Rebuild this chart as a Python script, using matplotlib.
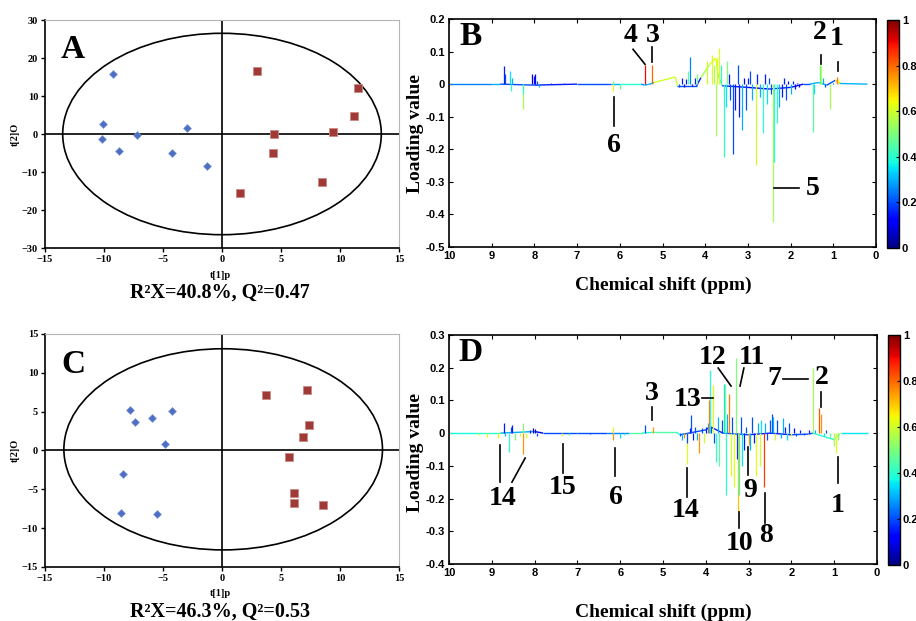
import numpy as np
import matplotlib
matplotlib.use("Agg")
import matplotlib.pyplot as plt
from matplotlib.patches import Ellipse
from matplotlib.collections import LineCollection
from matplotlib.cm import ScalarMappable
from matplotlib.colors import Normalize

# ---- score plots (A, C) ----
a_ctrl_x = [-9.2, -10.1, -10.2, -8.7, -7.2, -4.2, -3.0, -1.3]
a_ctrl_y = [15.8, 2.7, -1.3, -4.6, -0.2, -5.1, 1.5, -8.5]
a_case_x = [3.0, 11.5, 11.2, 9.4, 4.4, 4.3, 8.5, 1.5]
a_case_y = [16.5, 12.0, 4.8, 0.6, 0.1, -5.0, -12.5, -15.5]

c_ctrl_x = [-7.8, -7.4, -5.9, -4.2, -4.8, -8.4, -8.6, -5.5]
c_ctrl_y = [5.2, 3.7, 4.2, 5.1, 0.9, -3.0, -8.0, -8.2]
c_case_x = [3.7, 7.2, 7.4, 6.9, 5.7, 6.1, 6.1, 8.6]
c_case_y = [7.2, 7.8, 3.3, 1.8, -0.8, -5.5, -6.8, -7.0]

a_stats = "R²X=40.8%, Q²=0.47"
c_stats = "R²X=46.3%, Q²=0.53"

# ---- loading plots (B, D): peaks (ppm, loading, |r|) ----
b_ppm = [8.71, 8.69, 8.57, 8.55, 8.52, 8.27, 8.26, 8.06, 8.02, 7.99, 7.95, 7.9, 7.6, 7.3,
         6.16, 6.15, 6.0, 5.41, 5.25,
         4.62, 4.55, 4.5, 4.45, 4.4, 4.36, 4.3, 4.25, 4.2,
         3.95, 3.85, 3.8, 3.68, 3.72,
         3.75, 3.62, 3.56, 3.52, 3.48, 3.45, 3.42, 3.35, 3.3, 3.23, 3.21, 3.14, 3.1, 3.05,
         3.0, 2.95, 2.9, 2.81, 2.78, 2.72, 2.65, 2.6, 2.55, 2.5, 2.45, 2.41, 2.38, 2.33,
         2.28, 2.2, 2.15, 2.1, 2.05, 2.0, 1.95, 1.9, 1.85, 1.8,
         1.48, 1.45, 1.31, 1.29, 1.25, 1.2, 1.08, 1.0, 0.92, 0.9]
b_load = [0.055, 0.03, 0.04, -0.02, 0.02, -0.075, -0.03, 0.03, 0.025, 0.03, 0.01, -0.01, 0.005, 0.005,
          -0.022, 0.01, -0.015, 0.058, 0.06,
          -0.01, 0.02, -0.008, 0.015, 0.04, 0.083, -0.005, 0.02, 0.03,
          0.07, 0.09, 0.06, 0.11, 0.08,
          -0.16, 0.06, -0.224, -0.07, 0.07, 0.03, -0.05, -0.213, -0.08, 0.06, -0.1, -0.142, 0.02, -0.08,
          0.02, 0.04, -0.05, -0.249, 0.03, -0.04, -0.15, 0.03, -0.06, 0.02, -0.03, -0.424, -0.24, -0.12,
          -0.07, -0.04, 0.02, -0.05, 0.01, -0.03, 0.01, -0.015, 0.005, -0.01,
          -0.146, -0.03, 0.058, 0.06, 0.02, -0.01, -0.075, 0.005, 0.022, 0.015]
b_corr = [0.15, 0.2, 0.35, 0.4, 0.3, 0.55, 0.4, 0.1, 0.15, 0.1, 0.2, 0.3, 0.2, 0.2,
          0.62, 0.5, 0.45, 0.9, 0.8,
          0.2, 0.15, 0.1, 0.15, 0.45, 0.25, 0.1, 0.15, 0.5,
          0.6, 0.62, 0.55, 0.62, 0.6,
          0.55, 0.4, 0.4, 0.35, 0.5, 0.15, 0.2, 0.2, 0.15, 0.2, 0.15, 0.3, 0.1, 0.2,
          0.15, 0.2, 0.3, 0.6, 0.15, 0.3, 0.4, 0.15, 0.35, 0.2, 0.2, 0.55, 0.4, 0.4,
          0.3, 0.15, 0.15, 0.2, 0.1, 0.3, 0.15, 0.1, 0.1, 0.1,
          0.45, 0.35, 0.4, 0.62, 0.3, 0.2, 0.55, 0.2, 0.78, 0.65]

b_base_ppm = [10.0, 9.0, 8.8, 8.0, 7.0, 6.2, 6.0, 5.5, 5.42, 5.3, 5.2, 4.7, 4.65, 4.2, 4.1,
              3.9, 3.75, 3.7, 3.6, 3.0, 2.5, 2.0, 1.7, 1.55, 1.35, 1.15, 0.95, 0.85, 0.2]
b_base_val = [0, 0, 0, -0.003, 0, 0, 0, 0, -0.003, 0, 0.005, 0.022, -0.005, -0.005, 0.02,
              0.06, 0.08, 0.03, -0.005, -0.01, -0.015, -0.01, 0, 0, 0.005, -0.003, 0.012, 0.002, 0]
b_base_corr = [0.25, 0.3, 0.2, 0.15, 0.2, 0.3, 0.4, 0.25, 0.3, 0.3, 0.6, 0.6, 0.2, 0.15, 0.55,
               0.62, 0.62, 0.5, 0.15, 0.12, 0.15, 0.12, 0.2, 0.3, 0.3, 0.2, 0.7, 0.3, 0.3]

d_ppm = [9.3, 9.11, 8.85, 8.72, 8.68, 8.6, 8.55, 8.52, 8.45, 8.35, 8.28, 8.27, 8.2, 8.1, 8.04, 8.0, 7.95,
         7.35, 7.2, 6.7, 6.17, 6.16, 6.0, 5.9, 5.42, 5.23,
         4.6, 4.55, 4.5, 4.45, 4.43, 4.38, 4.35, 4.3, 4.25, 4.2, 4.15, 4.1, 4.05, 4.0, 3.95,
         3.92, 3.9, 3.87, 3.83, 3.8, 3.77, 3.72, 3.68, 3.62, 3.58, 3.55, 3.53, 3.5, 3.45, 3.42,
         3.38, 3.35, 3.3, 3.28, 3.25, 3.22, 3.18, 3.15, 3.1, 3.05, 3.0, 2.96, 2.92, 2.88, 2.82,
         2.78, 2.74, 2.7, 2.65, 2.62, 2.56, 2.5, 2.45, 2.42, 2.38, 2.33, 2.25, 2.2, 2.15, 2.1,
         2.05, 2.0, 1.95, 1.9, 1.8, 1.7, 1.6, 1.5, 1.45, 1.35, 1.3, 1.25, 1.2, 1.1, 1.0, 0.95, 0.9]
d_load = [-0.005, -0.012, -0.015, 0.03, -0.01, -0.058, 0.02, 0.025, -0.02, -0.01, 0.03, -0.065, -0.015, 0.01, 0.015, 0.012, -0.008,
          -0.008, -0.005, -0.003, -0.02, 0.02, -0.015, -0.005, 0.025, 0.02,
          -0.01, -0.02, -0.015, -0.093, -0.03, 0.015, 0.055, -0.02, 0.02, -0.02, -0.062, 0.015, -0.03, 0.02, 0.03,
          0.1, 0.193, 0.02, 0.147, -0.03, -0.087, 0.05, -0.1, 0.04, 0.15, 0.15, -0.19, 0.06, 0.12, -0.13,
          0.05, -0.165, 0.23, -0.08, -0.24, -0.19, 0.05, -0.1, -0.05, 0.02, -0.035, -0.05, 0.05, -0.03, -0.13,
          0.03, -0.1, 0.04, -0.165, 0.03, -0.02, 0.04, 0.06, 0.05, -0.02, 0.04, -0.015, 0.045, 0.02, -0.02,
          0.03, -0.01, 0.015, -0.01, 0.01, -0.005, 0.01, 0.2, 0.01, 0.076, 0.06, -0.01, 0.01, -0.015, -0.04, -0.062, -0.02]
d_corr = [0.6, 0.65, 0.65, 0.15, 0.3, 0.4, 0.2, 0.15, 0.5, 0.6, 0.5, 0.75, 0.62, 0.15, 0.05, 0.1, 0.2,
          0.62, 0.4, 0.2, 0.75, 0.62, 0.35, 0.4, 0.2, 0.75,
          0.2, 0.3, 0.75, 0.62, 0.2, 0.15, 0.2, 0.15, 0.2, 0.3, 0.75, 0.2, 0.6, 0.15, 0.3,
          0.78, 0.4, 0.2, 0.62, 0.2, 0.4, 0.3, 0.45, 0.2, 0.35, 0.5, 0.4, 0.3, 0.78, 0.62,
          0.2, 0.62, 0.5, 0.15, 0.7, 0.4, 0.2, 0.35, 0.15, 0.2, 0.75, 0.3, 0.2, 0.15, 0.62,
          0.3, 0.6, 0.35, 0.85, 0.3, 0.2, 0.2, 0.2, 0.3, 0.6, 0.2, 0.3, 0.3, 0.15, 0.35,
          0.2, 0.6, 0.1, 0.2, 0.15, 0.2, 0.15, 0.55, 0.3, 0.82, 0.75, 0.35, 0.2, 0.45, 0.55, 0.62, 0.5]

d_base_ppm = [10.0, 9.2, 8.8, 8.0, 7.8, 7.0, 6.3, 5.8, 5.5, 5.2, 4.7, 4.6, 4.0, 3.9, 3.6,
              3.0, 2.5, 2.0, 1.6, 1.5, 1.0, 0.85, 0.2]
d_base_val = [0, 0, 0, 0.005, 0, 0, 0, 0, 0, 0.003, 0.003, -0.005, 0.01, 0.02, 0,
              -0.005, 0, -0.005, -0.003, 0, -0.02, 0, 0]
d_base_corr = [0.38, 0.4, 0.3, 0.1, 0.2, 0.2, 0.25, 0.45, 0.4, 0.45, 0.4, 0.2, 0.15, 0.15, 0.2,
               0.15, 0.15, 0.2, 0.2, 0.4, 0.55, 0.35, 0.35]

# labels: (text, text ppm, text y, line x0, y0, x1, y1)
b_notes = [("4", 5.74, 0.150, 5.69, 0.107, 5.41, 0.061),
           ("3", 5.22, 0.150, 5.25, 0.113, 5.25, 0.068),
           ("2", 1.31, 0.160, 1.29, 0.089, 1.29, 0.061),
           ("1", 0.91, 0.141, 0.89, 0.068, 0.89, 0.040),
           ("6", 6.14, -0.187, 6.14, -0.040, 6.14, -0.129),
           ("5", 1.48, -0.319, 2.39, -0.319, 1.80, -0.319)]
d_notes = [("14", 8.74, -0.199, 8.81, -0.037, 8.81, -0.150),
           ("", 0, 0, 8.53, -0.150, 8.22, -0.076),
           ("15", 7.34, -0.165, 7.34, -0.034, 7.34, -0.122),
           ("6", 6.10, -0.196, 6.12, -0.046, 6.12, -0.131),
           ("3", 5.26, 0.122, 5.26, 0.080, 5.26, 0.040),
           ("13", 4.42, 0.104, 4.09, 0.107, 3.83, 0.107),
           ("14", 4.46, -0.235, 4.44, -0.107, 4.44, -0.196),
           ("12", 3.83, 0.232, 3.71, 0.199, 3.41, 0.144),
           ("11", 2.92, 0.232, 3.11, 0.199, 3.20, 0.144),
           ("7", 2.41, 0.168, 2.20, 0.165, 1.61, 0.165),
           ("2", 1.29, 0.171, 1.31, 0.125, 1.31, 0.080),
           ("9", 2.97, -0.174, 3.01, -0.043, 3.01, -0.128),
           ("10", 3.20, -0.336, 3.22, -0.242, 3.22, -0.291),
           ("8", 2.59, -0.312, 2.62, -0.183, 2.62, -0.275),
           ("1", 0.91, -0.220, 0.91, -0.073, 0.91, -0.153)]

serif = "Liberation Serif"
sans = "Liberation Sans"
cmap = plt.get_cmap("jet")

W, H = 916, 621
fig = plt.figure(figsize=(W / 100, H / 100), dpi=100)


def box(x0, y0, x1, y1):
    # pixel box (top-left origin) -> figure fraction rect
    return [x0 / W, 1 - y1 / H, (x1 - x0) / W, (y1 - y0) / H]


def score_plot(rect, cx, cy, rx, ry, ylim, yticks, ell, letter, stats, stats_y, xlab_y):
    ax = fig.add_axes(box(*rect))
    ax.add_patch(Ellipse(ell[:2], ell[2], ell[3], fill=False, ec="black", lw=1.2))
    ax.axhline(0, color="black", lw=1.2)
    ax.axvline(0, color="black", lw=1.2)
    ax.scatter(cx, cy, marker="D", s=16, c="#4c6fc4", edgecolors="#7f97d6", linewidths=0.5, zorder=3)
    ax.scatter(rx, ry, marker="s", s=36, c="#a03a36", edgecolors="#c88a86", linewidths=0.6, zorder=3)
    ax.set_xlim(-15, 15)
    ax.set_ylim(*ylim)
    ax.set_xticks(range(-15, 16, 5))
    ax.set_yticks(yticks)
    for s in ["top", "right"]:
        ax.spines[s].set_color("#b5b5b5")
    for s in ["left", "bottom"]:
        ax.spines[s].set_linewidth(1.2)
    ax.tick_params(length=3, width=1, labelsize=7.5, pad=2)
    for t in ax.get_xticklabels() + ax.get_yticklabels():
        t.set_fontfamily(serif)
        t.set_fontweight("bold")
    ax.text(0.045, 0.87, letter, transform=ax.transAxes, fontsize=24, fontweight="bold",
            family=serif, va="center", ha="left")
    fig.text(220 / W, 1 - xlab_y / H, "t[1]p", fontsize=7.5, family=serif, fontweight="bold",
             ha="center", va="center")
    fig.text(15 / W, 1 - (rect[1] + rect[3]) / 2 / H, "t[2]O", fontsize=7.5, family=serif,
             fontweight="bold", rotation=90, ha="center", va="center")
    fig.text(220 / W, 1 - stats_y / H, stats, fontsize=14.5, family=serif, fontweight="bold",
             ha="center", va="center")
    return ax


def loading_plot(rect, crect, ppm, load, corr, bppm, bval, bcorr, ylim, letter, notes, ylab_y, xlab_y):
    ax = fig.add_axes(box(*rect))
    norm = Normalize(0, 1)
    # baseline trace
    segs = [[(bppm[i], bval[i]), (bppm[i + 1], bval[i + 1])] for i in range(len(bppm) - 1)]
    ax.add_collection(LineCollection(segs, colors=cmap(norm(np.array(bcorr[:-1]))), linewidths=1.0))
    # peaks
    segs = [[(p, 0), (p, h)] for p, h in zip(ppm, load)]
    ax.add_collection(LineCollection(segs, colors=cmap(norm(np.array(corr))), linewidths=0.9))
    ax.set_xlim(10, 0)
    ax.set_ylim(*ylim)
    ax.set_xticks(range(10, -1, -1))
    ax.set_yticks(np.round(np.arange(ylim[0], ylim[1] + 0.01, 0.1), 1))
    ax.yaxis.set_major_formatter(plt.FuncFormatter(lambda v, p: "0" if abs(v) < 1e-9 else "%g" % v))
    ax.tick_params(direction="in", top=True, right=True, length=3, width=0.8, labelsize=8, pad=3)
    for t in ax.get_xticklabels() + ax.get_yticklabels():
        t.set_fontfamily(sans)
        t.set_fontweight("bold")
    for s in ax.spines.values():
        s.set_linewidth(1.2)
    ax.text(9.5, ylim[1] - 0.055, letter, fontsize=24, fontweight="bold", family=serif,
            va="center", ha="center")
    for txt, tx, ty, x0, y0, x1, y1 in notes:
        ax.plot([x0, x1], [y0, y1], color="black", lw=1.2)
        if txt:
            ax.text(tx, ty, txt, fontsize=20, fontweight="bold", family=serif, ha="center", va="center")
    fig.text(415 / W, 1 - ylab_y / H, "Loading value", fontsize=14, fontweight="bold", family=serif,
             rotation=90, ha="center", va="center")
    fig.text(663 / W, 1 - xlab_y / H, "Chemical shift (ppm)", fontsize=14, fontweight="bold",
             family=serif, ha="center", va="center")
    cax = fig.add_axes(box(*crect))
    cb = fig.colorbar(ScalarMappable(norm=norm, cmap=cmap), cax=cax)
    cb.set_ticks([0, 0.2, 0.4, 0.6, 0.8, 1])
    cb.ax.yaxis.set_major_formatter(plt.FuncFormatter(lambda v, p: "%g" % v))
    cb.ax.tick_params(direction="in", length=2, labelsize=8, pad=2)
    for t in cb.ax.get_yticklabels():
        t.set_fontfamily(sans)
        t.set_fontweight("bold")
    cb.outline.set_linewidth(1)
    return ax


score_plot((45, 20, 399, 248), a_ctrl_x, a_ctrl_y, a_case_x, a_case_y, (-30, 30), range(-30, 31, 10),
           (0, 0, 27, 53), "A", a_stats, 293, 275)
score_plot((45, 334, 399, 567), c_ctrl_x, c_ctrl_y, c_case_x, c_case_y, (-15, 15), range(-15, 16, 5),
           (0.1, 0.15, 27, 25.9), "C", c_stats, 612, 593)

loading_plot((449, 19, 876, 247), (887, 20, 899, 248), b_ppm, b_load, b_corr,
             b_base_ppm, b_base_val, b_base_corr, (-0.5, 0.2), "B", b_notes, 133, 285)
loading_plot((449, 335, 877, 564), (888, 335, 900, 565), d_ppm, d_load, d_corr,
             d_base_ppm, d_base_val, d_base_corr, (-0.4, 0.3), "D", d_notes, 453, 612)

fig.savefig("out.png", dpi=100)
